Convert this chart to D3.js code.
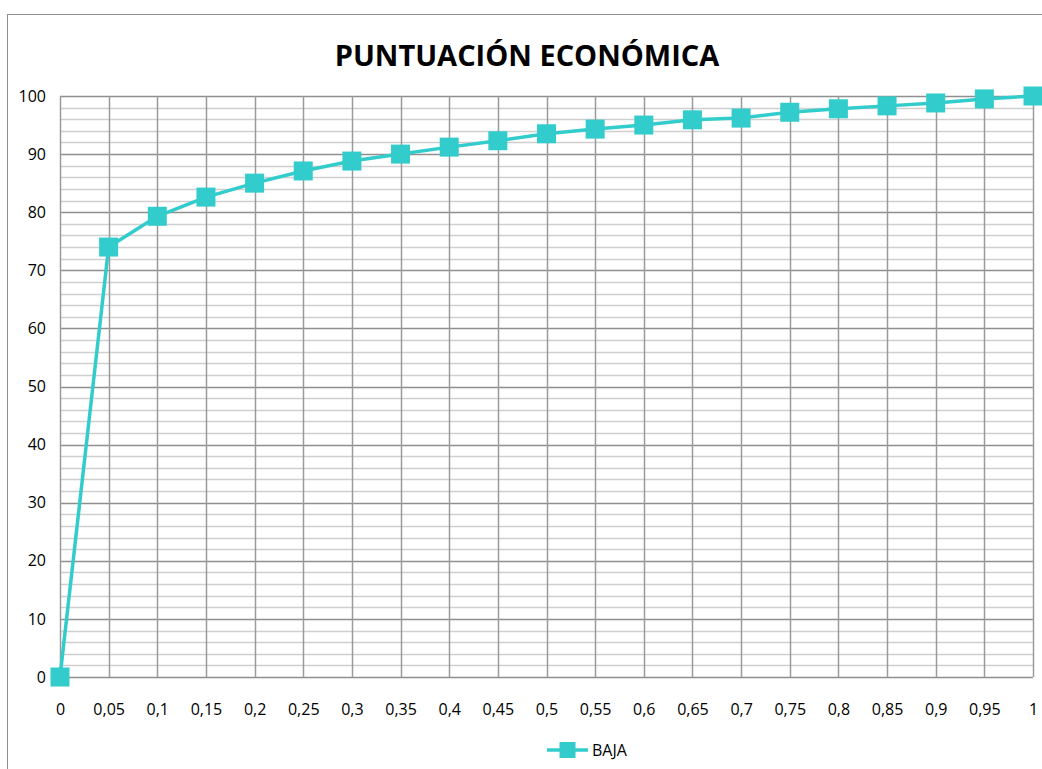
<!DOCTYPE html>
<html>
<head>
<meta charset="utf-8">
<script src="https://cdn.jsdelivr.net/npm/d3@7"></script>
<style>
  body { margin: 0; background: #fff; }
  svg { font-family: "Open Sans", sans-serif; }
</style>
</head>
<body>
<div id="chart"></div>
<script>
var xValues = [0, 0.05, 0.1, 0.15, 0.2, 0.25, 0.3, 0.35, 0.4, 0.45, 0.5,
               0.55, 0.6, 0.65, 0.7, 0.75, 0.8, 0.85, 0.9, 0.95, 1];
var bajaValues = [0, 74.0, 79.3, 82.6, 85.0, 87.1, 88.8, 90.0, 91.2, 92.3, 93.5,
                  94.3, 95.0, 95.9, 96.2, 97.2, 97.8, 98.3, 98.8, 99.5, 100];
var yTicks = [0, 10, 20, 30, 40, 50, 60, 70, 80, 90, 100];
var seriesName = "BAJA";
var title = "PUNTUACIÓN ECONÓMICA";

var margin = {top: 96, right: 9, bottom: 92, left: 60},
    width = 1042 - margin.left - margin.right,
    height = 769 - margin.top - margin.bottom;

var teal = "#33cccc";

var svg = d3.select("#chart")
  .append("svg")
    .attr("width", 1042)
    .attr("height", 769);

// outer chart border
svg.append("rect")
    .attr("x", 7.5)
    .attr("y", 14.5)
    .attr("width", 1042)
    .attr("height", 780)
    .attr("fill", "none")
    .attr("stroke", "#8c8c8c")
    .attr("stroke-width", 1);

svg.append("text")
    .attr("x", 527)
    .attr("y", 66)
    .attr("text-anchor", "middle")
    .attr("font-size", 29)
    .attr("font-weight", "bold")
    .attr("fill", "#000")
    .text(title);

var g = svg.append("g")
    .attr("transform", "translate(" + margin.left + "," + margin.top + ")");

var x = d3.scaleLinear()
    .domain([0, 1])
    .range([0, width]);

var y = d3.scaleLinear()
    .domain([0, 100])
    .range([height, 0]);

// minor horizontal grid
g.append("g")
  .selectAll("line")
  .data(d3.range(0, 101, 2).filter(function(d) { return d % 10 !== 0; }))
  .enter()
  .append("line")
    .attr("x1", 0)
    .attr("x2", width)
    .attr("y1", function(d) { return Math.round(y(d)) + 0.5; })
    .attr("y2", function(d) { return Math.round(y(d)) + 0.5; })
    .attr("stroke", "#cfcfcf")
    .attr("stroke-width", 1.5);

// major horizontal grid
g.append("g")
  .selectAll("line")
  .data(yTicks)
  .enter()
  .append("line")
    .attr("x1", 0)
    .attr("x2", width)
    .attr("y1", function(d) { return Math.round(y(d)) + 0.5; })
    .attr("y2", function(d) { return Math.round(y(d)) + 0.5; })
    .attr("stroke", "#8f8f8f")
    .attr("stroke-width", 1.5);

// vertical grid
g.append("g")
  .selectAll("line")
  .data(xValues)
  .enter()
  .append("line")
    .attr("x1", function(d) { return Math.round(x(d)) + 0.5; })
    .attr("x2", function(d) { return Math.round(x(d)) + 0.5; })
    .attr("y1", 0)
    .attr("y2", height)
    .attr("stroke", "#9a9a9a")
    .attr("stroke-width", 1.5);

// y axis labels
g.append("g")
  .call(d3.axisLeft(y).tickValues(yTicks).tickSize(0).tickPadding(14))
  .call(function(a) { a.select(".domain").remove(); })
  .selectAll("text")
    .attr("font-family", "Open Sans, sans-serif")
    .attr("font-size", 16)
    .attr("fill", "#000");

// x axis labels
g.append("g")
  .attr("transform", "translate(0," + height + ")")
  .call(d3.axisBottom(x).tickValues(xValues).tickSize(0).tickPadding(27)
    .tickFormat(function(d) { return String(+d.toFixed(2)).replace(".", ","); }))
  .call(function(a) { a.select(".domain").remove(); })
  .selectAll("text")
    .attr("font-family", "Open Sans, sans-serif")
    .attr("font-size", 16)
    .attr("fill", "#000");

var data = xValues.map(function(v, i) { return {x: v, value: bajaValues[i]}; });

var line = d3.line()
    .x(function(d) { return x(d.x); })
    .y(function(d) { return y(d.value); });

g.append("path")
    .datum(data)
    .attr("fill", "none")
    .attr("stroke", teal)
    .attr("stroke-width", 3.5)
    .attr("stroke-linejoin", "round")
    .attr("d", line);

var ms = 19;
g.append("g")
  .selectAll("rect")
  .data(data)
  .enter()
  .append("rect")
    .attr("x", function(d) { return x(d.x) - ms / 2; })
    .attr("y", function(d) { return y(d.value) - ms / 2; })
    .attr("width", ms)
    .attr("height", ms)
    .attr("fill", teal);

// legend
var legend = svg.append("g")
    .attr("transform", "translate(547,750)");

legend.append("line")
    .attr("x1", 0)
    .attr("x2", 41)
    .attr("stroke", teal)
    .attr("stroke-width", 3.5);

legend.append("rect")
    .attr("x", 20.5 - 8)
    .attr("y", -8)
    .attr("width", 16)
    .attr("height", 16)
    .attr("fill", teal);

legend.append("text")
    .attr("x", 45)
    .attr("y", 0)
    .attr("dy", "0.35em")
    .attr("font-size", 16)
    .attr("fill", "#000")
    .text(seriesName);
</script>
</body>
</html>
